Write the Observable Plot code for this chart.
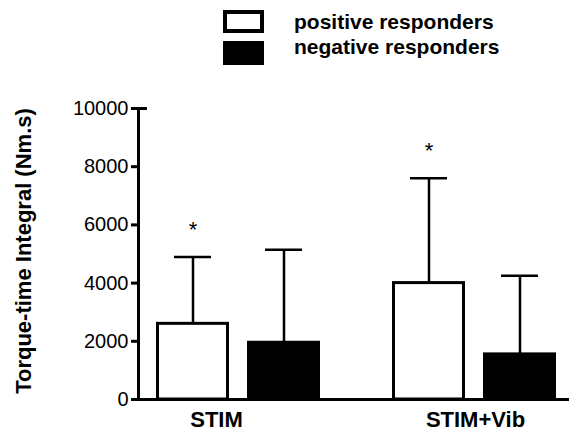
<!DOCTYPE html>
<html>
<head>
<meta charset="utf-8">
<script src="https://cdn.jsdelivr.net/npm/d3@7"></script>
<script src="https://cdn.jsdelivr.net/npm/@observablehq/plot@0.6"></script>
<style>
  html, body { margin: 0; padding: 0; background: #fff; }
  body { font-family: "Liberation Sans", Arial, sans-serif; width: 569px; }
  #legend { position: relative; width: 569px; height: 70px; }
  .swatch { position: absolute; left: 223px; width: 41px; box-sizing: border-box; border: 4px solid #000; }
  .legend-label { position: absolute; left: 294px; font-size: 21px; line-height: 21px; font-weight: bold; color: #000; white-space: nowrap; }
</style>
</head>
<body>
<div id="legend"></div>
<div id="chart"></div>
<script>
// Conditions on the x axis
const categories = ["STIM", "STIM+Vib"];

// Group names
const groups = ["positive responders", "negative responders"];

// Torque-time integral (Nm.s): means and standard deviations
const positiveMean = [2600, 4000];
const positiveSD = [2300, 3600];
const negativeMean = [1950, 1550];
const negativeSD = [3200, 2700];

// Significance markers over the positive responders
const positiveMarks = ["*", "*"];

const yTicks = [0, 2000, 4000, 6000, 8000, 10000];
const yLabel = "Torque-time Integral (Nm.s)";

const positive = categories.map((c, i) => ({
  category: c, mean: positiveMean[i], top: positiveMean[i] + positiveSD[i], mark: positiveMarks[i]
}));
const negative = categories.map((c, i) => ({
  category: c, mean: negativeMean[i], top: negativeMean[i] + negativeSD[i]
}));

// Legend
const legend = d3.select("#legend");
[{fill: "#fff", top: 10, h: 23}, {fill: "#000", top: 41, h: 24}].forEach((s, i) => {
  legend.append("div").attr("class", "swatch")
    .style("top", s.top + "px").style("height", s.h + "px").style("background", s.fill);
  legend.append("div").attr("class", "legend-label")
    .style("top", (i === 0 ? 11 : 36) + "px").text(groups[i]);
});

const W = 569, H = 362, mL = 138, mR = 0, mT = 38, mB = 33;
const barInset = 91;      // half of a group less one bar
const errShift = 45.5;    // offset from group centre to a bar centre
const capIn = 18, capOut = 109;

const chart = Plot.plot({
  width: W,
  height: H,
  marginLeft: mL,
  marginRight: mR,
  marginTop: mT,
  marginBottom: mB,
  style: { fontFamily: "'Liberation Sans', Arial, sans-serif", color: "#000", background: "#fff" },
  x: { domain: categories, paddingInner: 0.303, paddingOuter: 0.062, align: 0.577, axis: null },
  y: { domain: [0, 10000], axis: null },
  marks: [
    // bars
    Plot.barY(positive, { x: "category", y: "mean", fill: "#fff", stroke: "#000", strokeWidth: 3,
      insetLeft: 1.5, insetRight: barInset + 1.5 }),
    Plot.barY(negative, { x: "category", y: "mean", fill: "#000", stroke: "#000", strokeWidth: 3,
      insetLeft: barInset + 1.5, insetRight: 1.5 }),
    // error bars (upper SD)
    Plot.ruleX(positive, { x: "category", y1: "mean", y2: "top", dx: -errShift, strokeWidth: 2.5 }),
    Plot.ruleX(negative, { x: "category", y1: "mean", y2: "top", dx: errShift, strokeWidth: 2.5 }),
    Plot.tickY(positive, { x: "category", y: "top", strokeWidth: 2.5, insetLeft: capIn, insetRight: capOut }),
    Plot.tickY(negative, { x: "category", y: "top", strokeWidth: 2.5, insetLeft: capOut, insetRight: capIn }),
    // significance
    Plot.text(positive, { x: "category", y: "top", text: "mark", dx: -errShift, dy: -27, fontSize: 22 }),
    // axes
    Plot.axisY(yTicks, { tickSize: 7, tickPadding: 3, strokeWidth: 3, fontSize: 20, label: null,
      tickFormat: (d) => String(d) }),
    Plot.tickY([10000], { strokeWidth: 3, insetRight: W - mL - mR - 9 }),
    Plot.frame({ anchor: "left", strokeWidth: 3 }),
    Plot.ruleY([0], { strokeWidth: 3 }),
    Plot.axisX([categories[0]], { tickSize: 0, tickPadding: 12, fontSize: 22, fontWeight: "bold", dx: -22, label: null }),
    Plot.axisX([categories[1]], { tickSize: 0, tickPadding: 12, fontSize: 22, fontWeight: "bold", dx: 1, label: null }),
    Plot.text([yLabel], { frameAnchor: "left", textAnchor: "middle", rotate: -90, dx: -115, dy: -3,
      fontSize: 22, fontWeight: "bold" })
  ]
});
document.getElementById("chart").appendChild(chart);
</script>
</body>
</html>
